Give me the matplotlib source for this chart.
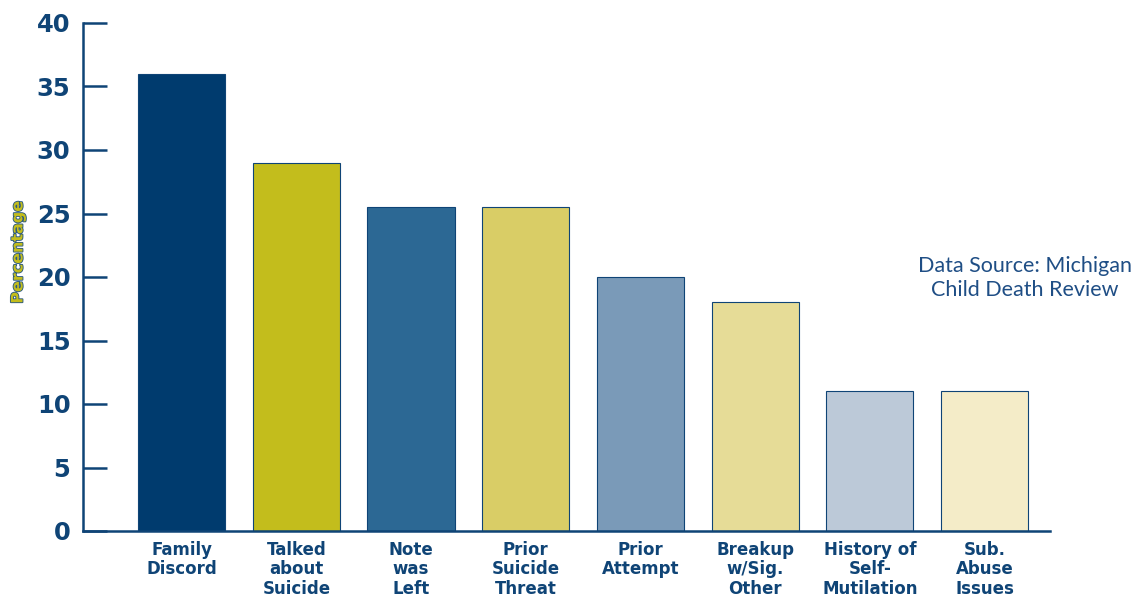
import matplotlib
matplotlib.use("Agg")
import matplotlib.pyplot as plt
import matplotlib.patheffects as pe

categories = ["Family\nDiscord", "Talked\nabout\nSuicide", "Note\nwas\nLeft",
              "Prior\nSuicide\nThreat", "Prior\nAttempt", "Breakup\nw/Sig.\nOther",
              "History of\nSelf-\nMutilation", "Sub.\nAbuse\nIssues"]
values = [36, 29, 25.5, 25.5, 20, 18, 11, 11]
colors = ["#003B6E", "#C3BD1C", "#2C6894", "#D9CD66",
          "#7A9AB8", "#E6DC97", "#BCC9D8", "#F4ECC8"]

navy = "#0F4476"

fig = plt.figure(figsize=(11.43, 5.98), dpi=100)
ax = fig.add_axes([83 / 1143, 1 - 531 / 598, (1050 - 83) / 1143, (531 - 23) / 598])

x = range(len(values))
ax.bar(x, values, width=0.76, color=colors, edgecolor=navy, linewidth=0.8, zorder=2)

ax.set_xlim(-0.86, 7.57)
ax.set_ylim(0, 40)
ax.set_yticks(range(0, 41, 5))
ax.set_xticks(list(x))
ax.set_xticklabels(categories, fontsize=12, fontweight="bold", color=navy, linespacing=1.1)
ax.tick_params(axis="x", length=0, pad=7)
ax.tick_params(axis="y", direction="in", length=17, width=1.8, color=navy,
               labelsize=17.5, labelcolor=navy, pad=9)
for lab in ax.get_yticklabels():
    lab.set_fontweight("bold")

for s in ["top", "right"]:
    ax.spines[s].set_visible(False)
for s in ["left", "bottom"]:
    ax.spines[s].set_color(navy)
    ax.spines[s].set_linewidth(1.8)

fig.text(18 / 1143, 1 - 252 / 598, "Percentage", rotation=90, ha="center", va="center",
         fontsize=11.5, fontweight="bold", color="#C3BD1C",
         path_effects=[pe.withStroke(linewidth=1.3, foreground="#2C5A80")])

fig.text(1025 / 1143, 1 - 278 / 598, "Data Source: Michigan\nChild Death Review",
         ha="center", va="center", fontsize=15.5, color="#1F4E85",
         family="Lato", linespacing=1.2)

fig.savefig("out.png", dpi=100)
